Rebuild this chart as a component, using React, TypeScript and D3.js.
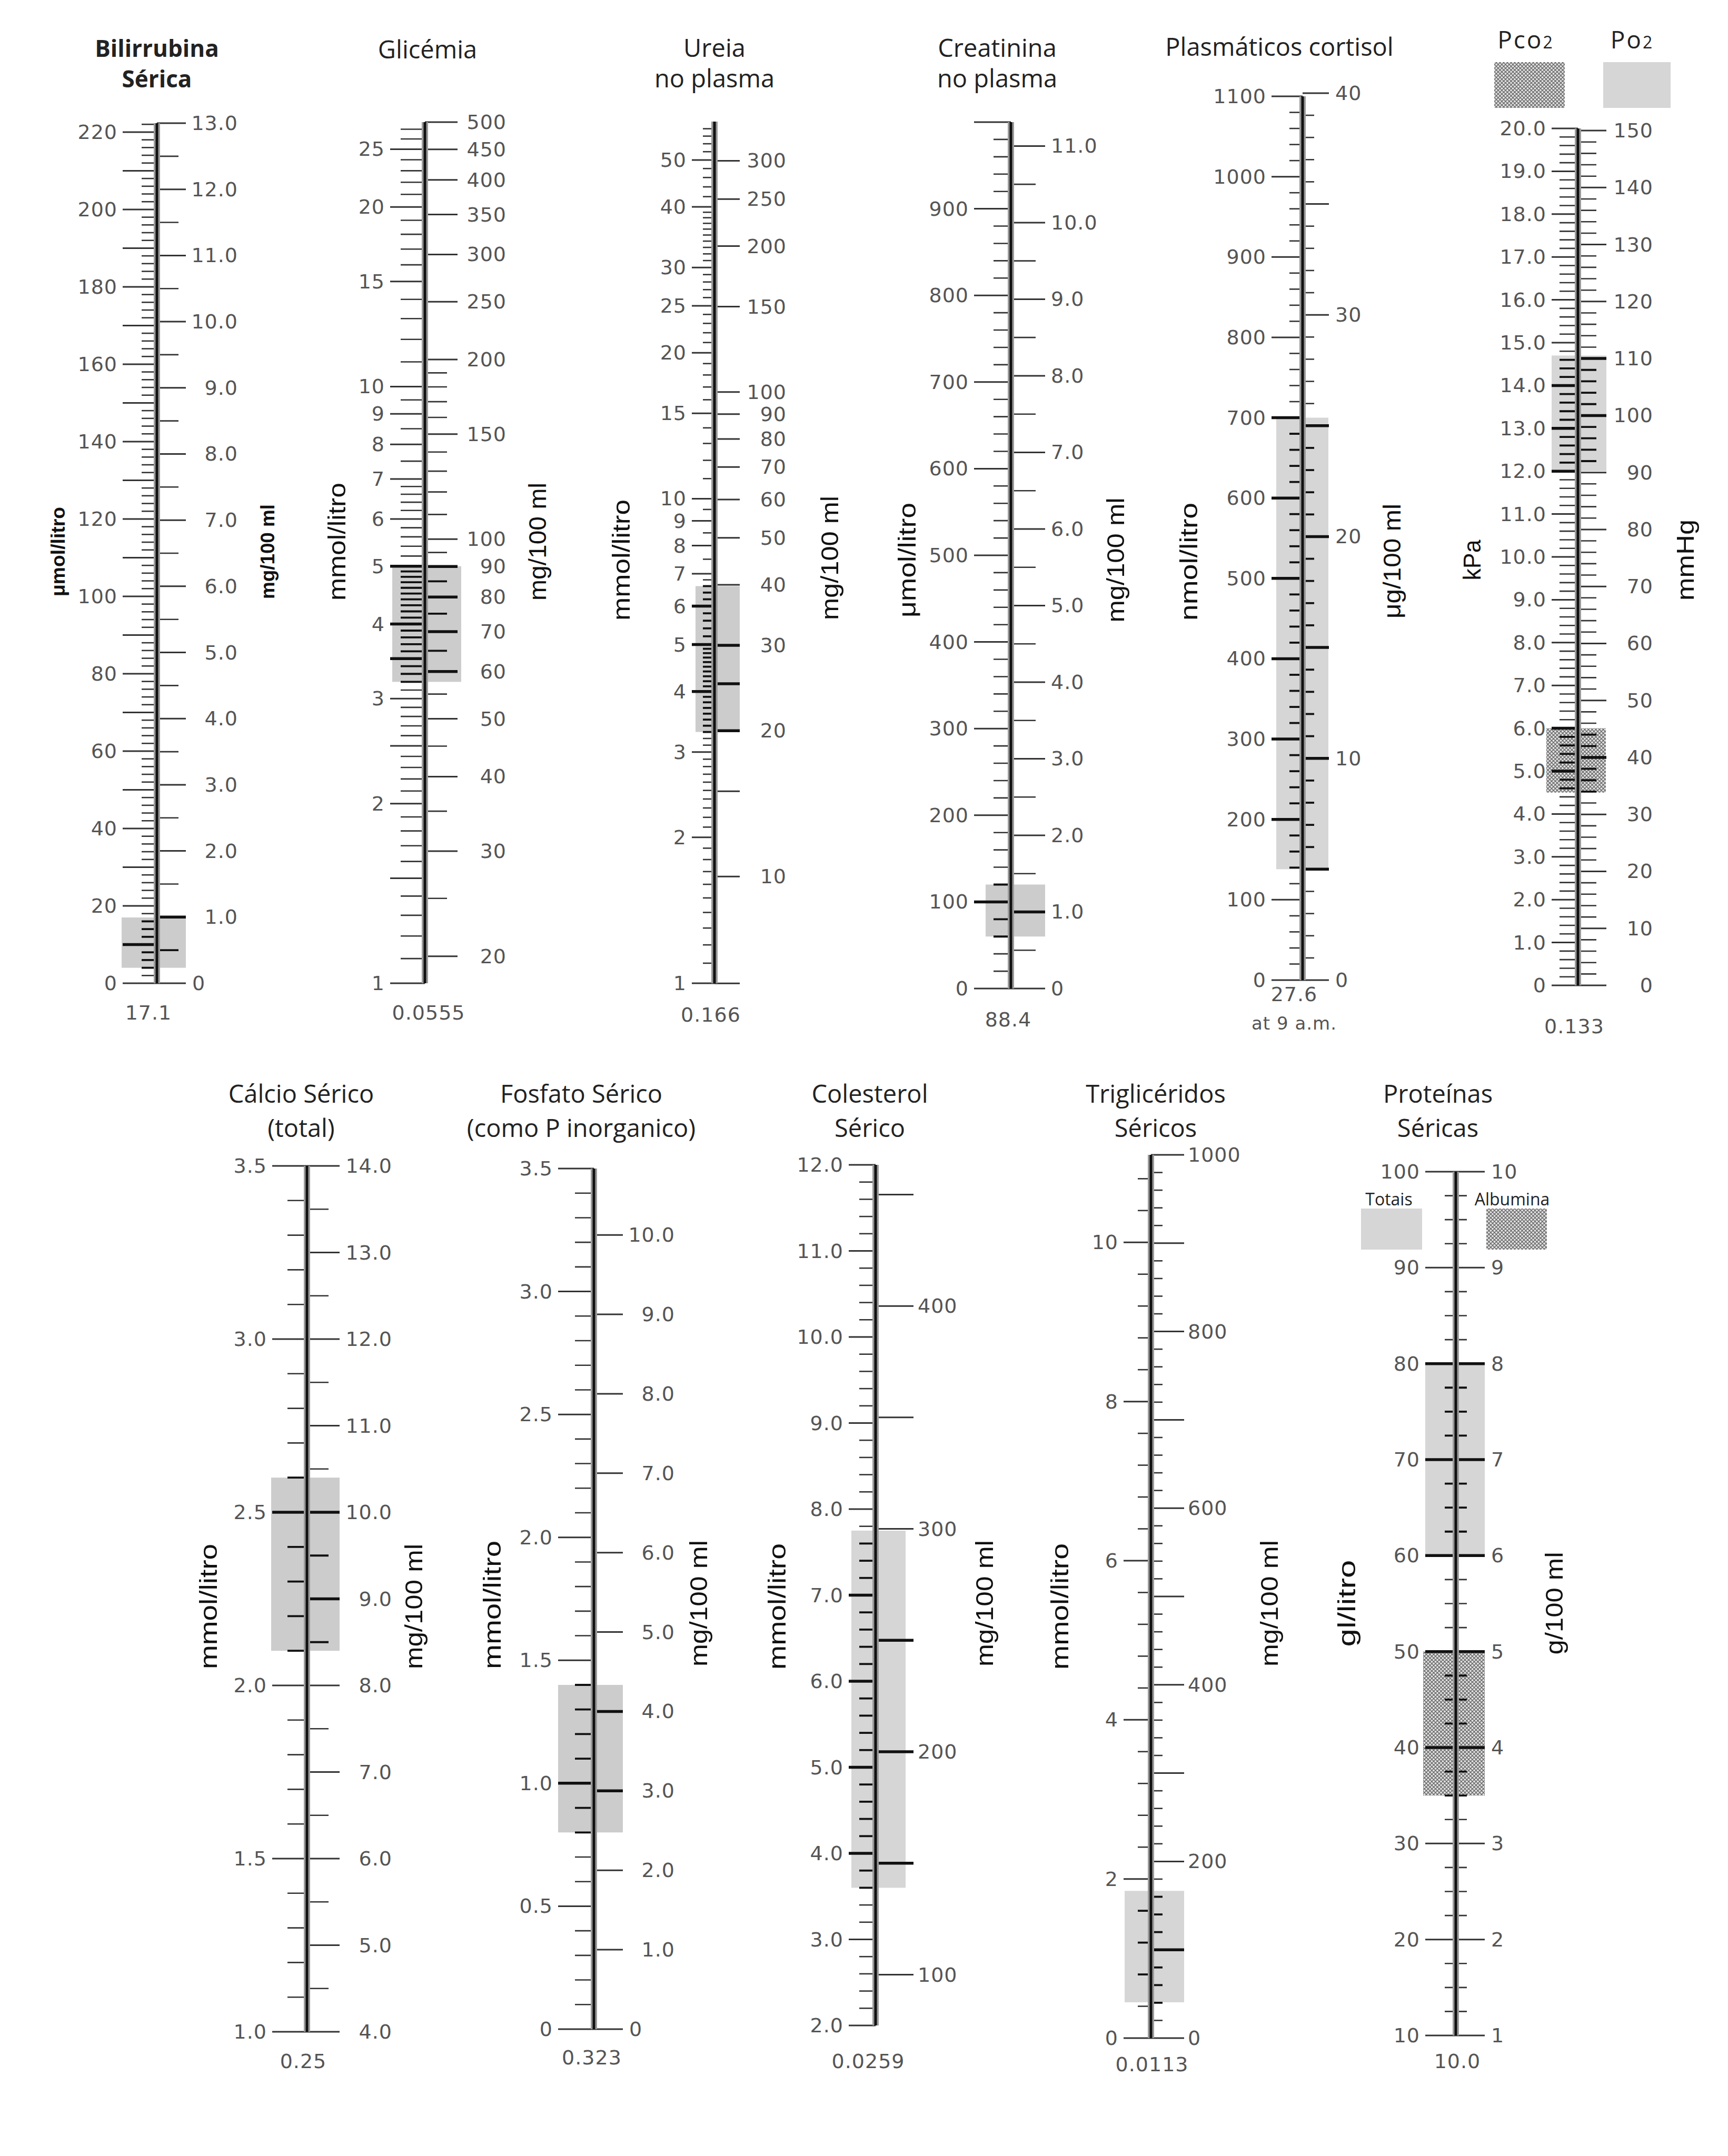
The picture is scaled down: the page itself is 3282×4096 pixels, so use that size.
import React from 'react';
import * as d3 from 'd3';

type Steps = [number, number, number][];

// ---------- values ----------

// Bilirrubina sérica  (µmol/litro | mg/100 ml, x17.1)
const biliUmolLabels = [0, 20, 40, 60, 80, 100, 120, 140, 160, 180, 200, 220];
const biliUmolMajors = [10, 30, 50, 70, 90, 110, 130, 150, 170, 190, 210];
const biliUmolMinor: Steps = [[0, 222, 2]];
const biliMgLabels = [0, 1, 2, 3, 4, 5, 6, 7, 8, 9, 10, 11, 12, 13];
const biliMgMinor: Steps = [[0.5, 12.5, 1]];
const biliNormal: [number, number] = [4, 17];

// Glicémia  (mmol/litro | mg/100 ml, x0.0555) – log
const gluMmolLabels = [1, 2, 3, 4, 5, 6, 7, 8, 9, 10, 15, 20, 25];
const gluMmolMajors = [1.5, 2.5, 3.5];
const gluMmolMinor: Steps = [[1, 5, 0.1], [5, 7, 0.2], [7, 10, 0.5], [10, 27, 1]];
const gluMgLabels = [20, 30, 40, 50, 60, 70, 80, 90, 100, 150, 200, 250, 300, 350, 400, 450, 500];
const gluMgMinor: Steps = [[25, 95, 10], [110, 190, 10]];
const gluNormal: [number, number] = [3.2, 5.0];

// Ureia no plasma  (mmol/litro | mg/100 ml, x0.166) – log
const ureaMmolLabels = [1, 2, 3, 4, 5, 6, 7, 8, 9, 10, 15, 20, 25, 30, 40, 50];
const ureaMmolMinor: Steps = [[1, 5, 0.1], [5, 7, 0.2], [7, 10, 0.5], [10, 40, 1], [40, 58, 2]];
const ureaMgLabels = [10, 20, 30, 40, 50, 60, 70, 80, 90, 100, 150, 200, 250, 300];
const ureaMgMajors = [6.02, 15, 25];
const ureaNormal: [number, number] = [3.3, 6.6];

// Creatinina no plasma  (µmol/litro | mg/100 ml, x88.4)
const creatUmolLabels = [0, 100, 200, 300, 400, 500, 600, 700, 800, 900];
const creatUmolMajors = [1000];
const creatUmolMinor: Steps = [[0, 1000, 20]];
const creatMgLabels = [0, 1, 2, 3, 4, 5, 6, 7, 8, 9, 10, 11];
const creatMgMinor: Steps = [[0.5, 10.5, 1]];
const creatNormal: [number, number] = [60, 120];

// Cortisol plasmático  (nmol/litro | µg/100 ml, x27.6)
const cortNmolLabels = [0, 100, 200, 300, 400, 500, 600, 700, 800, 900, 1000, 1100];
const cortNmolMinor: Steps = [[0, 1100, 20]];
const cortUgLabels = [0, 10, 20, 30, 40];
const cortUgMajors = [5, 15, 25, 35];
const cortUgMinor: Steps = [[0, 39, 1]];
const cortNormal: [number, number] = [138, 700];

// Pco2 / Po2  (kPa | mmHg, x0.133)
const gasKpaLabels = [0, 1, 2, 3, 4, 5, 6, 7, 8, 9, 10, 11, 12, 13, 14, 15, 16, 17, 18, 19, 20];
const gasKpaMinor: Steps = [[0, 20, 0.2]];
const gasMmHgLabels = [0, 10, 20, 30, 40, 50, 60, 70, 80, 90, 100, 110, 120, 130, 140, 150];
const gasMmHgMinor: Steps = [[0, 150, 2]];
const po2Normal: [number, number] = [12.0, 14.7];
const pco2Normal: [number, number] = [4.5, 6.0];

// Cálcio sérico  (mmol/litro | mg/100 ml, x0.25)
const caMmolLabels = [1.0, 1.5, 2.0, 2.5, 3.0, 3.5];
const caMmolMinor: Steps = [[1, 3.5, 0.1]];
const caMgLabels = [4, 5, 6, 7, 8, 9, 10, 11, 12, 13, 14];
const caMgMinor: Steps = [[4.5, 13.5, 1]];
const caNormal: [number, number] = [2.1, 2.6];

// Fosfato sérico  (mmol/litro | mg/100 ml, x0.323)
const phMmolLabels = [0, 0.5, 1.0, 1.5, 2.0, 2.5, 3.0, 3.5];
const phMmolMinor: Steps = [[0, 3.5, 0.1]];
const phMgLabels = [0, 1, 2, 3, 4, 5, 6, 7, 8, 9, 10];
const phNormal: [number, number] = [0.8, 1.4];

// Colesterol sérico  (mmol/litro | mg/100 ml, x0.0259)
const cholMmolLabels = [2, 3, 4, 5, 6, 7, 8, 9, 10, 11, 12];
const cholMmolMinor: Steps = [[2, 12, 0.2]];
const cholMgLabels = [100, 200, 300, 400];
const cholMgMajors = [150, 250, 350, 450];
const cholNormal: [number, number] = [3.6, 7.75];

// Triglicéridos séricos  (mmol/litro | mg/100 ml, x0.0113)
const tgMmolLabels = [0, 2, 4, 6, 8, 10];
const tgMmolMinor: Steps = [[0, 10.8, 0.4]];
const tgMgLabels = [0, 200, 400, 600, 800, 1000];
const tgMgMajors = [100, 300, 500, 700, 900];
const tgMgMinor: Steps = [[0, 1000, 20]];
const tgNormal: [number, number] = [0.45, 1.85];

// Proteínas séricas  (g/litro | g/100 ml, x10.0)
const protGlLabels = [10, 20, 30, 40, 50, 60, 70, 80, 90, 100];
const protGdlLabels = [1, 2, 3, 4, 5, 6, 7, 8, 9, 10];
const protMinor: Steps = [[10, 100, 2.5]];
const protTotais: [number, number] = [60, 80];
const protAlbumina: [number, number] = [35, 50];

// ---------- helpers ----------
const expand = (specs: Steps = []) =>
  specs.flatMap(([a, b, s]) => d3.range(a, b + s / 2, s).map(v => +v.toFixed(4)));

const fmtPlain = (v: number) => String(v);
const fmtDec = (v: number) => (v === 0 ? '0' : v.toFixed(1));

const LABEL_FONT = '"DejaVu Sans", Verdana, sans-serif';
const TITLE_FONT = '"Open Sans", "Noto Sans", sans-serif';
const UNIT_FONT = '"Liberation Sans Narrow", "Liberation Sans", Arial, sans-serif';

interface Side {
  labels: number[];
  majors?: number[];
  minors?: Steps;
  fmt: (v: number) => string;
  majorLen: number;
  minorLen?: number;
  labelX?: number;
  anchor?: 'start' | 'end';
  zeroNear?: boolean;
}
interface Shade { range: [number, number]; kind: 'solid' | 'light' | 'hatch'; l: number; r: number }
interface Unit { text: string; x: number; y: number; len: number; size?: number; bold?: boolean }
interface GaugeCfg {
  cx: number; top: number; bottom: number; log?: boolean;
  leftDomain: [number, number]; rightDomain: [number, number];
  left: Side; right: Side;
  centerMinors?: Steps; centerLen?: number;
  shades: Shade[];
  title: string[]; titleX: number; titleY: number[]; bold?: boolean;
  factor: string[]; factorX: number; factorY: number[];
  units: Unit[];
}

const TOP_T = [108, 166];
const BOT_T = [2095, 2160];

const GAUGES: GaugeCfg[] = [
  {
    cx: 298, top: 234, bottom: 1868, leftDomain: [0, 222.3], rightDomain: [0, 13],
    left: { labels: biliUmolLabels, majors: biliUmolMajors, minors: biliUmolMinor, fmt: fmtPlain, majorLen: 65, minorLen: 29 },
    right: { labels: biliMgLabels, minors: biliMgMinor, fmt: fmtDec, majorLen: 55, minorLen: 41, labelX: 452, anchor: 'end', zeroNear: true },
    shades: [{ range: biliNormal, kind: 'solid', l: 67, r: 55 }],
    title: ['Bilirrubina', 'Sérica'], titleX: 298, titleY: TOP_T, bold: true,
    factor: ['17.1'], factorX: 282, factorY: [1937],
    units: [
      { text: 'μmol/litro', x: 110, y: 1048, len: 170, size: 36, bold: true },
      { text: 'mg/100 ml', x: 508, y: 1048, len: 180, size: 36, bold: true },
    ],
  },
  {
    cx: 807, top: 232, bottom: 1868, log: true, leftDomain: [1, 27.75], rightDomain: [18.02, 500],
    left: { labels: gluMmolLabels, majors: gluMmolMajors, minors: gluMmolMinor, fmt: fmtPlain, majorLen: 66, minorLen: 46 },
    right: { labels: gluMgLabels, minors: gluMgMinor, fmt: fmtPlain, majorLen: 62, minorLen: 42, labelX: 962, anchor: 'end' },
    shades: [{ range: gluNormal, kind: 'solid', l: 62, r: 69 }],
    title: ['Glicémia'], titleX: 812, titleY: [111],
    factor: ['0.0555'], factorX: 814, factorY: [1937],
    units: [
      { text: 'mmol/litro', x: 639, y: 1029, len: 224 },
      { text: 'mg/100 ml', x: 1020, y: 1029, len: 224 },
    ],
  },
  {
    cx: 1357, top: 231, bottom: 1868, log: true, leftDomain: [1, 60], rightDomain: [6.024, 361.4],
    left: { labels: ureaMmolLabels, minors: ureaMmolMinor, fmt: fmtPlain, majorLen: 43, minorLen: 22 },
    right: { labels: ureaMgLabels, majors: ureaMgMajors, fmt: fmtPlain, majorLen: 48, labelX: 1494, anchor: 'end' },
    shades: [{ range: ureaNormal, kind: 'solid', l: 36, r: 48 }],
    title: ['Ureia', 'no plasma'], titleX: 1357, titleY: TOP_T,
    factor: ['0.166'], factorX: 1350, factorY: [1941],
    units: [
      { text: 'mmol/litro', x: 1179, y: 1064, len: 230 },
      { text: 'mg/100 ml', x: 1575, y: 1060, len: 236 },
    ],
  },
  {
    cx: 1920, top: 232, bottom: 1878, leftDomain: [0, 1000], rightDomain: [0, 11.312],
    left: { labels: creatUmolLabels, majors: creatUmolMajors, minors: creatUmolMinor, fmt: fmtPlain, majorLen: 70, minorLen: 33 },
    right: { labels: creatMgLabels, minors: creatMgMinor, fmt: fmtDec, majorLen: 65, minorLen: 47, labelX: 1996, anchor: 'start' },
    shades: [{ range: creatNormal, kind: 'solid', l: 48, r: 65 }],
    title: ['Creatinina', 'no plasma'], titleX: 1894, titleY: TOP_T,
    factor: ['88.4'], factorX: 1915, factorY: [1950],
    units: [
      { text: 'μmol/litro', x: 1722, y: 1064, len: 218 },
      { text: 'mg/100 ml', x: 2118, y: 1064, len: 237 },
    ],
  },
  {
    cx: 2474, top: 183, bottom: 1862, leftDomain: [0, 1100], rightDomain: [0, 39.855],
    left: { labels: cortNmolLabels, minors: cortNmolMinor, fmt: fmtPlain, majorLen: 59, minorLen: 25 },
    right: { labels: cortUgLabels, majors: cortUgMajors, minors: cortUgMinor, fmt: fmtPlain, majorLen: 50, minorLen: 22, labelX: 2536, anchor: 'start' },
    shades: [{ range: cortNormal, kind: 'light', l: 50, r: 49 }],
    title: ['Plasmáticos cortisol'], titleX: 2430, titleY: [106],
    factor: ['27.6', 'at 9 a.m.'], factorX: 2458, factorY: [1902, 1956],
    units: [
      { text: 'nmol/litro', x: 2257, y: 1067, len: 224 },
      { text: 'μg/100 ml', x: 2643, y: 1066, len: 218 },
    ],
  },
  {
    cx: 2997, top: 244, bottom: 1872, leftDomain: [0, 20], rightDomain: [0, 150.376],
    left: { labels: gasKpaLabels, minors: gasKpaMinor, fmt: fmtDec, majorLen: 50, minorLen: 35 },
    right: { labels: gasMmHgLabels, minors: gasMmHgMinor, fmt: fmtPlain, majorLen: 54, minorLen: 35, labelX: 3140, anchor: 'end' },
    shades: [
      { range: po2Normal, kind: 'light', l: 50, r: 54 },
      { range: pco2Normal, kind: 'hatch', l: 60, r: 53 },
    ],
    title: [], titleX: 0, titleY: [],
    factor: ['0.133'], factorX: 2990, factorY: [1963],
    units: [
      { text: 'kPa', x: 2795, y: 1064, len: 77 },
      { text: 'mmHg', x: 3200, y: 1064, len: 154 },
    ],
  },
  {
    cx: 583, top: 2215, bottom: 3860, leftDomain: [1, 3.5], rightDomain: [4, 14],
    left: { labels: caMmolLabels, minors: caMmolMinor, fmt: fmtDec, majorLen: 66, minorLen: 37 },
    right: { labels: caMgLabels, minors: caMgMinor, fmt: fmtDec, majorLen: 62, minorLen: 41, labelX: 745, anchor: 'end' },
    shades: [{ range: caNormal, kind: 'solid', l: 68, r: 62 }],
    title: ['Cálcio Sérico', '(total)'], titleX: 572, titleY: BOT_T,
    factor: ['0.25'], factorX: 576, factorY: [3929],
    units: [
      { text: 'mmol/litro', x: 395, y: 3052, len: 238 },
      { text: 'mg/100 ml', x: 785, y: 3052, len: 238 },
    ],
  },
  {
    cx: 1128, top: 2220, bottom: 3855, leftDomain: [0, 3.5], rightDomain: [0, 10.836],
    left: { labels: phMmolLabels, minors: phMmolMinor, fmt: fmtDec, majorLen: 68, minorLen: 36 },
    right: { labels: phMgLabels, fmt: fmtDec, majorLen: 55, labelX: 1282, anchor: 'end', zeroNear: true },
    shades: [{ range: phNormal, kind: 'solid', l: 68, r: 55 }],
    title: ['Fosfato Sérico', '(como P inorganico)'], titleX: 1104, titleY: BOT_T,
    factor: ['0.323'], factorX: 1124, factorY: [3922],
    units: [
      { text: 'mmol/litro', x: 934, y: 3049, len: 244 },
      { text: 'mg/100 ml', x: 1326, y: 3046, len: 240 },
    ],
  },
  {
    cx: 1663, top: 2213, bottom: 3848, leftDomain: [2, 12], rightDomain: [77.22, 463.32],
    left: { labels: cholMmolLabels, minors: cholMmolMinor, fmt: fmtDec, majorLen: 51, minorLen: 31 },
    right: { labels: cholMgLabels, majors: cholMgMajors, fmt: fmtPlain, majorLen: 72, labelX: 1743, anchor: 'start' },
    shades: [{ range: cholNormal, kind: 'light', l: 46, r: 57 }],
    title: ['Colesterol', 'Sérico'], titleX: 1652, titleY: BOT_T,
    factor: ['0.0259'], factorX: 1649, factorY: [3929],
    units: [
      { text: 'mmol/litro', x: 1475, y: 3052, len: 240 },
      { text: 'mg/100 ml', x: 1869, y: 3046, len: 240 },
    ],
  },
  {
    cx: 2186, top: 2194, bottom: 3872, leftDomain: [0, 11.1], rightDomain: [0, 1000],
    left: { labels: tgMmolLabels, minors: tgMmolMinor, fmt: fmtPlain, majorLen: 52, minorLen: 25 },
    right: { labels: tgMgLabels, majors: tgMgMajors, minors: tgMgMinor, fmt: fmtPlain, majorLen: 63, minorLen: 22, labelX: 2256, anchor: 'start' },
    shades: [{ range: tgNormal, kind: 'light', l: 50, r: 63 }],
    title: ['Triglicéridos', 'Séricos'], titleX: 2195, titleY: BOT_T,
    factor: ['0.0113'], factorX: 2188, factorY: [3935],
    units: [
      { text: 'mmol/litro', x: 2012, y: 3052, len: 240 },
      { text: 'mg/100 ml', x: 2410, y: 3046, len: 240 },
    ],
  },
  {
    cx: 2765, top: 2226, bottom: 3867, leftDomain: [10, 100], rightDomain: [1, 10],
    left: { labels: protGlLabels, fmt: fmtPlain, majorLen: 58 },
    right: { labels: protGdlLabels, fmt: fmtPlain, majorLen: 55, labelX: 2832, anchor: 'start' },
    centerMinors: protMinor, centerLen: 21,
    shades: [
      { range: protTotais, kind: 'light', l: 58, r: 55 },
      { range: protAlbumina, kind: 'hatch', l: 62, r: 55 },
    ],
    title: ['Proteínas', 'Séricas'], titleX: 2731, titleY: BOT_T,
    factor: ['10.0'], factorX: 2768, factorY: [3929],
    units: [
      { text: 'gl/litro', x: 2557, y: 3046, len: 165 },
      { text: 'g/100 ml', x: 2951, y: 3046, len: 195 },
    ],
  },
];

const SHADE_FILL: Record<string, string> = { solid: '#c6c6c6', light: '#d2d2d2', hatch: 'url(#hatch)' };

const near = (a: number, list: number[]) => list.some(b => Math.abs(a - b) < 1e-6);

function Gauge({ g }: { g: GaugeCfg }) {
  const yL = (g.log ? d3.scaleLog() : d3.scaleLinear()).domain(g.leftDomain).range([g.bottom, g.top]);
  const yR = (g.log ? d3.scaleLog() : d3.scaleLinear()).domain(g.rightDomain).range([g.bottom, g.top]);
  const bands = g.shades.map(s => [yL(s.range[1]), yL(s.range[0])]);
  const inShade = (y: number) => bands.some(([a, b]) => y >= a - 1 && y <= b + 1);

  const tickStyle = (y: number, minor: boolean) =>
    inShade(y)
      ? { stroke: '#111', strokeWidth: minor ? 3.8 : 5.5 }
      : { stroke: '#333', strokeWidth: minor ? 2.6 : 3 };

  const sideTicks = (side: Side, scale: (v: number) => number, dir: -1 | 1, key: string) => {
    const long = [...side.labels, ...(side.majors || [])];
    const minors = expand(side.minors).filter(v => !near(v, long));
    const out: JSX.Element[] = [];
    minors.forEach((v, i) => {
      const y = scale(v);
      out.push(<line key={`${key}m${i}`} x1={g.cx} x2={g.cx + dir * (side.minorLen || 0)} y1={y} y2={y} {...tickStyle(y, true)} />);
    });
    long.forEach((v, i) => {
      const y = scale(v);
      out.push(<line key={`${key}M${i}`} x1={g.cx} x2={g.cx + dir * side.majorLen} y1={y} y2={y} {...tickStyle(y, false)} />);
    });
    return out;
  };

  const centerMinors = expand(g.centerMinors).filter(v => !near(v, g.left.labels));

  return (
    <g>
      {g.shades.map((s, i) => (
        <rect key={`s${i}`} x={g.cx - s.l} width={s.l + s.r} y={bands[i][0]} height={bands[i][1] - bands[i][0]}
          fill={SHADE_FILL[s.kind]} opacity={s.kind === 'hatch' ? 1 : 0.9} />
      ))}
      {sideTicks(g.left, yL, -1, 'l')}
      {sideTicks(g.right, yR, 1, 'r')}
      {centerMinors.map((v, i) => {
        const y = yL(v);
        return <line key={`c${i}`} x1={g.cx - (g.centerLen || 0)} x2={g.cx + (g.centerLen || 0)} y1={y} y2={y} {...tickStyle(y, true)} />;
      })}
      <line x1={g.cx} x2={g.cx} y1={g.top} y2={g.bottom} stroke="#9a9a9a" strokeWidth={12} />
      <line x1={g.cx} x2={g.cx} y1={g.top} y2={g.bottom} stroke="#111" strokeWidth={5} />

      <g fontFamily={LABEL_FONT} fontSize={38} fill="#555" letterSpacing={1}>
        {g.left.labels.map((v, i) => (
          <text key={`ll${i}`} x={g.cx - g.left.majorLen - 10} y={yL(v)} textAnchor="end" dominantBaseline="central">
            {g.left.fmt(v)}
          </text>
        ))}
        {g.right.labels.map((v, i) => {
          const zero = g.right.zeroNear && v === 0;
          return (
            <text key={`rl${i}`} x={zero ? g.cx + g.right.majorLen + 12 : g.right.labelX} y={yR(v)}
              textAnchor={zero ? 'start' : g.right.anchor} dominantBaseline="central">
              {g.right.fmt(v)}
            </text>
          );
        })}
        {g.factor.map((t, i) => (
          <text key={`f${i}`} x={g.factorX} y={g.factorY[i]} textAnchor="middle" fontSize={i === 0 ? 38 : 34}>{t}</text>
        ))}
      </g>

      <g fontFamily={TITLE_FONT} fontSize={g.bold ? 44 : 47} fontWeight={g.bold ? 700 : 400} fill="#222" textAnchor="middle">
        {g.title.map((t, i) => (
          <text key={`t${i}`} x={g.titleX} y={g.titleY[i]}>{t}</text>
        ))}
      </g>

      {g.units.map((u, i) => (
        <text key={`u${i}`} transform={`translate(${u.x},${u.y}) rotate(-90)`} dy="0.36em"
          textAnchor="middle" fontFamily={UNIT_FONT} fontSize={u.size || 46} fontWeight={u.bold ? 700 : 400}
          fill="#111" textLength={u.len} lengthAdjust="spacingAndGlyphs">
          {u.text}
        </text>
      ))}
    </g>
  );
}

export default function App() {
  return (
    <svg width={3282} height={4096} viewBox="0 0 3282 4096"
      style={{ position: 'absolute', left: 0, top: 0, display: 'block' }}>
      <defs>
        <pattern id="hatch" width={7} height={7} patternUnits="userSpaceOnUse">
          <rect width={7} height={7} fill="#e4e4e4" />
          <path d="M-1,1 l2,-2 M0,7 l7,-7 M6,8 l2,-2" stroke="#666" strokeWidth={1.4} />
          <path d="M-1,6 l2,2 M0,0 l7,7 M6,-1 l2,2" stroke="#666" strokeWidth={1.4} />
        </pattern>
      </defs>
      <rect width={3282} height={4096} fill="#fff" />

      {GAUGES.map((g, i) => <Gauge key={i} g={g} />)}

      {/* Pco2 / Po2 headings and keys */}
      <g fontFamily={TITLE_FONT} fill="#222" fontSize={46}>
        <text x={2898} y={92} textAnchor="middle" letterSpacing={3}>Pco<tspan fontSize={32}>2</tspan></text>
        <text x={3100} y={92} textAnchor="middle" letterSpacing={3}>Po<tspan fontSize={32}>2</tspan></text>
      </g>
      <rect x={2838} y={118} width={134} height={87} fill="url(#hatch)" />
      <rect x={3045} y={118} width={128} height={87} fill="#d2d2d2" opacity={0.9} />

      {/* Proteínas keys */}
      <g fontFamily={TITLE_FONT} fill="#222" fontSize={32} textAnchor="middle">
        <text x={2638} y={2290}>Totais</text>
        <text x={2872} y={2290}>Albumina</text>
      </g>
      <rect x={2585} y={2296} width={116} height={78} fill="#d2d2d2" opacity={0.9} />
      <rect x={2823} y={2296} width={115} height={78} fill="url(#hatch)" />
    </svg>
  );
}
